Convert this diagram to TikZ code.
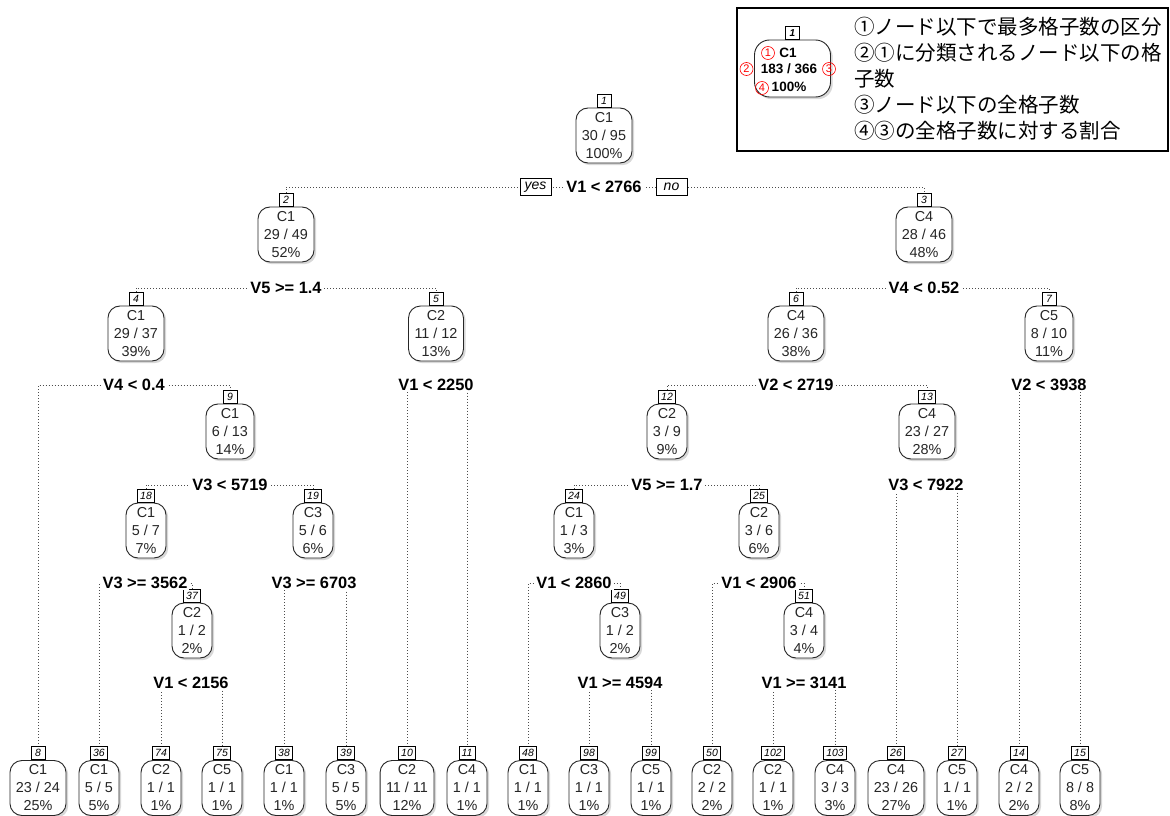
\documentclass[tikz,border=0pt]{standalone}
\usepackage{fontspec}
\setmainfont{Liberation Sans}
\newfontfamily\cjk{Noto Sans CJK JP}
\usetikzlibrary{shadows}
\pgfdeclarelayer{bgfill}
\pgfdeclarelayer{background}
\pgfsetlayers{bgfill,background,main}
\tikzset{
 nd/.style={draw=black!85, line width=0.9pt, rounded corners=12pt, fill=white, align=center, inner xsep=6pt, inner ysep=2pt, minimum height=55pt, text=black!85, font=\fontsize{14.4}{18}\selectfont, drop shadow={shadow xshift=2.2pt,shadow yshift=-2.2pt,fill=black!30}},
 num/.style={draw, line width=0.6pt, fill=white, inner xsep=2.5pt, inner ysep=1pt, minimum width=14pt, minimum height=13pt, font=\fontsize{10.5}{11}\selectfont\itshape, anchor=south},
 split/.style={fill=white, inner xsep=2pt, inner ysep=1pt, font=\fontsize{16.4}{18}\selectfont\bfseries},
 conn/.style={line width=0.8pt, black!70, dash pattern=on 0.9pt off 2.1pt},
 yn/.style={draw, fill=white, line width=0.6pt, inner sep=1pt, minimum width=31pt, minimum height=17pt, font=\fontsize{14}{16}\selectfont\itshape},
 lgtext/.style={anchor=west, inner sep=0pt, font=\cjk\fontsize{20.5}{22}\selectfont},
 redc/.style={circle, draw=red, line width=0.6pt, text=red, inner sep=0pt, minimum size=13pt, font=\fontsize{11}{11}\selectfont},
 lgbold/.style={font=\fontsize{13.5}{14}\selectfont\bfseries, inner sep=0pt},
}
\newcommand\treenode[5]{\node[nd] (#1) at (#2,#3) {#5}; \node[num] (#1k) at (#1.north) {#4};}
\begin{document}
\begin{tikzpicture}[x=1pt,y=-1pt]
\useasboundingbox (0,0) rectangle (1170,816);
\begin{pgfonlayer}{bgfill}
\fill[white] (0,0) rectangle (1170,816);
\end{pgfonlayer}
% internal nodes
\treenode{n1}{604}{135.5}{1}{C1\\30 / 95\\100\%}
\treenode{n2}{286}{234.5}{2}{C1\\29 / 49\\52\%}
\treenode{n3}{924}{234.5}{3}{C4\\28 / 46\\48\%}
\treenode{n4}{136}{333.5}{4}{C1\\29 / 37\\39\%}
\treenode{n5}{436}{333.5}{5}{C2\\11 / 12\\13\%}
\treenode{n6}{796}{333.5}{6}{C4\\26 / 36\\38\%}
\treenode{n7}{1049}{333.5}{7}{C5\\8 / 10\\11\%}
\treenode{n9}{230}{431.5}{9}{C1\\6 / 13\\14\%}
\treenode{n12}{667}{431.5}{12}{C2\\3 / 9\\9\%}
\treenode{n13}{927}{431.5}{13}{C4\\23 / 27\\28\%}
\treenode{n18}{146}{530.5}{18}{C1\\5 / 7\\7\%}
\treenode{n19}{313}{530.5}{19}{C3\\5 / 6\\6\%}
\treenode{n24}{574}{530.5}{24}{C1\\1 / 3\\3\%}
\treenode{n25}{759}{530.5}{25}{C2\\3 / 6\\6\%}
\treenode{n37}{192}{630.5}{37}{C2\\1 / 2\\2\%}
\treenode{n49}{620}{630.5}{49}{C3\\1 / 2\\2\%}
\treenode{n51}{804}{630.5}{51}{C4\\3 / 4\\4\%}
% leaves
\treenode{l8}{38}{788}{8}{C1\\23 / 24\\25\%}
\treenode{l36}{99}{788}{36}{C1\\5 / 5\\5\%}
\treenode{l74}{161}{788}{74}{C2\\1 / 1\\1\%}
\treenode{l75}{222}{788}{75}{C5\\1 / 1\\1\%}
\treenode{l38}{284}{788}{38}{C1\\1 / 1\\1\%}
\treenode{l39}{346}{788}{39}{C3\\5 / 5\\5\%}
\treenode{l10}{407}{788}{10}{C2\\11 / 11\\12\%}
\treenode{l11}{467}{788}{11}{C4\\1 / 1\\1\%}
\treenode{l48}{528}{788}{48}{C1\\1 / 1\\1\%}
\treenode{l98}{589}{788}{98}{C3\\1 / 1\\1\%}
\treenode{l99}{651}{788}{99}{C5\\1 / 1\\1\%}
\treenode{l50}{712}{788}{50}{C2\\2 / 2\\2\%}
\treenode{l102}{773}{788}{102}{C2\\1 / 1\\1\%}
\treenode{l103}{835}{788}{103}{C4\\3 / 3\\3\%}
\treenode{l26}{896}{788}{26}{C4\\23 / 26\\27\%}
\treenode{l27}{957}{788}{27}{C5\\1 / 1\\1\%}
\treenode{l14}{1019}{788}{14}{C4\\2 / 2\\2\%}
\treenode{l15}{1080}{788}{15}{C5\\8 / 8\\8\%}
% split labels
\node[split] (s1) at (604,187) {V1 < 2766};
\node[split] (s2) at (286,288) {V5 >= 1.4};
\node[split] (s3) at (924,288) {V4 < 0.52};
\node[split] (s4) at (134,385) {V4 < 0.4};
\node[split] (s5) at (436,385) {V1 < 2250};
\node[split] (s6) at (796,385) {V2 < 2719};
\node[split] (s7) at (1049,385) {V2 < 3938};
\node[split] (s9) at (230,485) {V3 < 5719};
\node[split] (s12) at (667,485) {V5 >= 1.7};
\node[split] (s13) at (926,485) {V3 < 7922};
\node[split] (s18) at (145,583) {V3 >= 3562};
\node[split] (s19) at (314,583) {V3 >= 6703};
\node[split] (s24) at (574,583) {V1 < 2860};
\node[split] (s25) at (759,583) {V1 < 2906};
\node[split] (s37) at (191,683) {V1 < 2156};
\node[split] (s49) at (620,683) {V1 >= 4594};
\node[split] (s51) at (804,683) {V1 >= 3141};
\node[yn] (yes) at (535.5,187) {yes};
\node[yn] (no) at (671.5,187) {no};
% connectors
\begin{pgfonlayer}{background}
\draw[conn] (n2k.north) |- (s1.center) -| (n3k.north);
\draw[conn] (n4k.north) |- (s2.center) -| (n5k.north);
\draw[conn] (n6k.north) |- (s3.center) -| (n7k.north);
\draw[conn] (l8k.north) |- (s4.center) -| (n9k.north);
\draw[conn] (l10k.north) |- (s5.center) -| (l11k.north);
\draw[conn] (n12k.north) |- (s6.center) -| (n13k.north);
\draw[conn] (l14k.north) |- (s7.center) -| (l15k.north);
\draw[conn] (n18k.north) |- (s9.center) -| (n19k.north);
\draw[conn] (n24k.north) |- (s12.center) -| (n25k.north);
\draw[conn] (l26k.north) |- (s13.center) -| (l27k.north);
\draw[conn] (l36k.north) |- (s18.center) -| (n37k.north);
\draw[conn] (l38k.north) |- (s19.center) -| (l39k.north);
\draw[conn] (l48k.north) |- (s24.center) -| (n49k.north);
\draw[conn] (l50k.north) |- (s25.center) -| (n51k.north);
\draw[conn] (l74k.north) |- (s37.center) -| (l75k.north);
\draw[conn] (l98k.north) |- (s49.center) -| (l99k.north);
\draw[conn] (l102k.north) |- (s51.center) -| (l103k.north);
\end{pgfonlayer}
% legend
\draw[line width=1.8pt] (737,8) rectangle (1168,151);
\node[nd, minimum width=76pt, minimum height=57pt, rounded corners=15pt] (lg) at (792.5,68.5) {};
\node[num, font=\fontsize{10}{10}\selectfont\bfseries\itshape] (lgk) at (lg.north) {1};
\node[lgbold] (lgc) at (788,53) {C1};
\node[lgbold] (lgn) at (789,69) {183 / 366};
\node[lgbold] (lgp) at (789,87) {100\%};
\node[redc] (r1) at (768,53) {1};
\node[redc] (r2) at (746.5,69) {2};
\node[redc] (r3) at (829,69) {3};
\node[redc] (r4) at (762,88) {4};
\node[lgtext] (t1) at (854,27) {①ノード以下で最多格子数の区分};
\node[lgtext] (t2) at (854,53) {②①に分類されるノード以下の格};
\node[lgtext] (t3) at (854,79) {子数};
\node[lgtext] (t4) at (854,105) {③ノード以下の全格子数};
\node[lgtext] (t5) at (854,131) {④③の全格子数に対する割合};
\end{tikzpicture}
\end{document}
